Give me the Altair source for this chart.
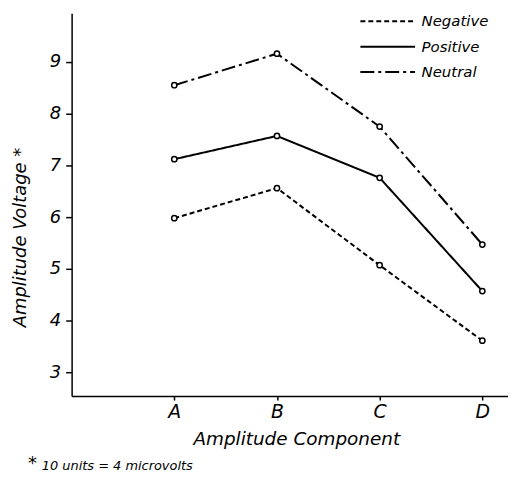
import altair as alt
import pandas as pd

components = ["A", "B", "C", "D"]
series = ["Negative", "Positive", "Neutral"]
negative = [5.98, 6.56, 5.07, 3.61]
positive = [7.12, 7.57, 6.76, 4.57]
neutral = [8.55, 9.16, 7.75, 5.47]
y_ticks = [3, 4, 5, 6, 7, 8, 9]
note_star = "*"
note_text = "10 units = 4 microvolts"

rows = []
for name, vals in zip(series, [negative, positive, neutral]):
    for i, (c, v) in enumerate(zip(components, vals)):
        rows.append({"series": name, "comp": c, "pos": i + 1, "value": v})
df = pd.DataFrame(rows)

label_expr = "[''," + ",".join("'%s'" % c for c in components) + "][datum.value]"
FONT = "DejaVu Sans"

x_enc = alt.X(
    "pos:Q",
    scale=alt.Scale(domain=[0, 4.25], nice=False, zero=False),
    axis=alt.Axis(
        values=[1, 2, 3, 4], labelExpr=label_expr, title="Amplitude Component",
        tickSize=4, labelPadding=3, labelFontSize=19, titleFontSize=18.5,
        titleX=226, titleY=43, titleBaseline="middle", grid=False,
    ),
)
y_enc = alt.Y(
    "value:Q",
    scale=alt.Scale(domain=[2.54, 9.94], nice=False, zero=False),
    axis=alt.Axis(
        values=y_ticks, title="Amplitude Voltage *", tickSize=6, labelPadding=5,
        labelFontSize=18, titleFontSize=18, titleX=-42, titleY=225, grid=False,
    ),
)

lines = alt.Chart(df).mark_line(color="black", strokeWidth=2).encode(
    x=x_enc,
    y=y_enc,
    strokeDash=alt.StrokeDash(
        "series:N",
        scale=alt.Scale(domain=series, range=[[5, 3], [1, 0], [14, 4, 3, 4]]),
        legend=alt.Legend(
            title=None, orient="none", legendX=306, legendY=-4,
            symbolType="M-2.5,0H2.5", symbolSize=484, symbolStrokeWidth=2,
            symbolStrokeColor="black", labelFontSize=15, labelFont=FONT,
            labelFontStyle="italic", rowPadding=5.5, labelOffset=22,
        ),
    ),
)

points = alt.Chart(df).mark_point(
    shape="circle", size=28, filled=True, fill="white", stroke="black", strokeWidth=1.5, opacity=1
).encode(x="pos:Q", y="value:Q", detail="series:N")

star = alt.Chart(pd.DataFrame({"t": [note_star]})).mark_text(
    fontSize=18, font=FONT, fontStyle="italic", align="left", baseline="alphabetic"
).encode(text="t:N", x=alt.value(-44), y=alt.value(458))

note = alt.Chart(pd.DataFrame({"t": [note_text]})).mark_text(
    fontSize=13, font=FONT, fontStyle="italic", align="left", baseline="middle"
).encode(text="t:N", x=alt.value(-30), y=alt.value(455))

chart = alt.layer(lines, points, star, note).properties(
    width=439, height=385,
    autosize=alt.AutoSizeParams(type="none"),
    padding={"left": 64, "top": 4, "right": 0, "bottom": 75},
).configure_view(stroke=None).configure_axis(
    domainColor="black", domainWidth=1.5, tickColor="black", tickWidth=1.5,
    labelColor="black", titleColor="black", labelFont=FONT, titleFont=FONT,
    labelFontStyle="italic", titleFontStyle="italic", titleFontWeight="normal",
)

chart.save("out.html", embed_options={"renderer": "svg", "actions": False})
